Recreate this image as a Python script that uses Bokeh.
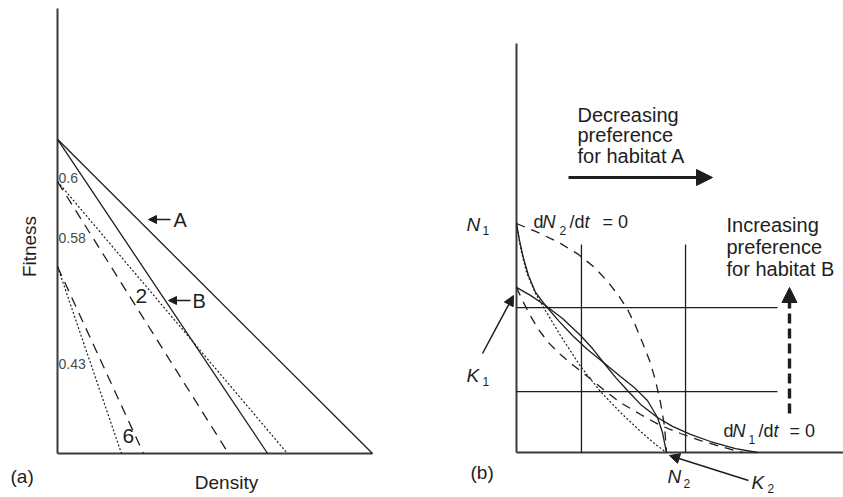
from bokeh.plotting import figure
from bokeh.layouts import row
from bokeh.models import Range1d, Arrow, NormalHead
from bokeh.core.properties import value
from bokeh.embed import file_html
from bokeh.resources import INLINE

FONT = "Liberation Sans"
INK = "#1e1e1e"
AXIS = "#3a3a3a"

# ---------------- Panel (a) data: straight fitness-density lines ----------------
a_line_names = ["A", "B", "pref_0.6_dotted", "pref_2_dashed", "pref_0.43_dotted", "pref_6_dashed"]
a_fitness_at_zero_density = [0.706, 0.706, 0.611, 0.611, 0.420, 0.420]
a_density_at_zero_fitness = [1.000, 0.667, 0.730, 0.543, 0.203, 0.273]
a_value_labels = ["0.6", "0.58", "0.43"]
a_curve_labels = ["2", "6"]
a_arrow_labels = ["A", "B"]

# ---------------- Panel (b) data: isoclines (x = N2, y = N1) ----------------
dn2_solid_x = [0, 0.02, 0.047, 0.08, 0.127, 0.193, 0.28, 0.373, 0.473, 0.58, 0.693, 0.793, 0.873, 0.94, 0.973, 1.0]
dn2_solid_y = [1.0, 0.926, 0.847, 0.773, 0.699, 0.642, 0.576, 0.511, 0.450, 0.393, 0.332, 0.279, 0.227, 0.153, 0.087, 0.0]

dn1_solid_x = [0, 0.093, 0.193, 0.307, 0.427, 0.507, 0.58, 0.66, 0.74, 0.827, 0.94, 1.04, 1.16, 1.293, 1.46, 1.607]
dn1_solid_y = [0.721, 0.686, 0.642, 0.585, 0.511, 0.454, 0.393, 0.328, 0.271, 0.210, 0.153, 0.114, 0.079, 0.048, 0.017, 0.0]

dn2_dashed_x = [0, 0.16, 0.293, 0.413, 0.52, 0.607, 0.68, 0.74, 0.793, 0.84, 0.887, 0.927, 0.96, 0.987, 1.0]
dn2_dashed_y = [1.0, 0.956, 0.913, 0.865, 0.808, 0.747, 0.686, 0.625, 0.555, 0.480, 0.402, 0.314, 0.218, 0.114, 0.0]

dn1_dashed_x = [0, 0.04, 0.087, 0.147, 0.213, 0.293, 0.38, 0.473, 0.58, 0.693, 0.827, 0.96, 1.093, 1.227, 1.36, 1.507]
dn1_dashed_y = [0.721, 0.664, 0.603, 0.537, 0.480, 0.428, 0.380, 0.332, 0.275, 0.218, 0.166, 0.118, 0.083, 0.052, 0.026, 0.0]

dotted_x = [0, 0.027, 0.067, 0.127, 0.193, 0.293, 0.427, 0.56, 0.693, 0.827, 0.927, 1.0]
dotted_y = [1.0, 0.891, 0.786, 0.694, 0.620, 0.511, 0.376, 0.266, 0.175, 0.092, 0.035, 0.0]

grid_h_levels = [0.633, 0.266]      # N1 levels of horizontal reference lines
grid_h_extent = 1.74
grid_v_levels = [0.433, 1.127]      # N2 levels of vertical reference lines
grid_v_extent = 0.908

text_decreasing = "Decreasing\npreference\nfor habitat A"
text_increasing = "Increasing\npreference\nfor habitat B"

DOT = "2 2"
DASH = "10 7"


def make_fig(w, h, xr, yr):
    p = figure(width=w, height=h, x_range=Range1d(*xr), y_range=Range1d(*yr),
               output_backend="svg", toolbar_location=None,
               x_axis_location=None, y_axis_location=None, title=None,
               min_border=0, min_border_left=0, min_border_right=0,
               min_border_top=0, min_border_bottom=0,
               outline_line_color=None, background_fill_color="white",
               border_fill_color="white")
    p.xgrid.visible = False
    p.ygrid.visible = False
    return p


def txt(p, x, y, s, size, style="normal", align="left", baseline="middle",
        angle=0.0, color=INK, line_height=1.0):
    p.text(x=[x], y=[y], text=[s], text_font=value(FONT), text_font_size=f"{size}px",
           text_font_style=style, text_align=align, text_baseline=baseline,
           angle=angle, text_color=color, text_line_height=line_height)


def arrow(p, x0, y0, x1, y1, width=1.3, head=9, dash="solid"):
    p.add_layout(Arrow(end=NormalHead(size=head, fill_color=INK, line_color=INK, line_width=1),
                       x_start=x0, y_start=y0, x_end=x1, y_end=y1,
                       line_color=INK, line_width=width, line_dash=dash))


H = 497
# ---------------- Panel (a) ----------------
# page-pixel placement: origin at (57, 453); 315 px per density unit, 445 px per fitness unit
WA = 448
ax_x = lambda px: (px - 57) / 315
ax_y = lambda py: (453 - py) / 445
pa = make_fig(WA, H, (ax_x(0), ax_x(WA)), (ax_y(H), ax_y(0)))

# axes
pa.line([0, 0], [0, ax_y(8)], line_color=AXIS, line_width=2)
pa.line([0, 1.0], [0, 0], line_color=AXIS, line_width=2)

a_styles = {
    "A": dict(line_dash="solid", line_width=1.3),
    "B": dict(line_dash="solid", line_width=1.3),
    "pref_0.6_dotted": dict(line_dash=DOT, line_width=1.2),
    "pref_2_dashed": dict(line_dash=DASH, line_width=1.3),
    "pref_0.43_dotted": dict(line_dash=DOT, line_width=1.2),
    "pref_6_dashed": dict(line_dash=DASH, line_width=1.3),
}
for name, f0, d0 in zip(a_line_names, a_fitness_at_zero_density, a_density_at_zero_fitness):
    pa.line([0, d0], [f0, 0], line_color=INK, **a_styles[name])

for s, py in zip(a_value_labels, [177, 237, 363]):
    txt(pa, ax_x(58), ax_y(py), s, 14, color="#4a4a4a")
for s, (px, py) in zip(a_curve_labels, [(135, 295), (122, 435)]):
    txt(pa, ax_x(px), ax_y(py), s, 21)
for s, (tail, tip, lx, py) in zip(a_arrow_labels, [(170, 148, 173, 219), (190, 168, 192, 300)]):
    arrow(pa, ax_x(tail), ax_y(py), ax_x(tip), ax_y(py), width=1.3, head=8)
    txt(pa, ax_x(lx), ax_y(py), s, 20)

txt(pa, ax_x(29), ax_y(246), "Fitness", 19, align="center", angle=1.5707963)
txt(pa, ax_x(226), ax_y(482), "Density", 19, align="center")
txt(pa, ax_x(10), ax_y(476), "(a)", 19)

# ---------------- Panel (b) ----------------
# page-pixel placement: origin at (516, 452); 150 px per N2 unit, 229 px per N1 unit
WB = 843 - WA
bx = lambda px: (px - 516) / 150
by = lambda py: (452 - py) / 229
pb = make_fig(WB, H, (bx(WA), bx(WA + WB)), (by(H), by(0)))

pb.line([0, 0], [0, by(43)], line_color=AXIS, line_width=2)
pb.line([0, bx(WA + WB)], [0, 0], line_color=AXIS, line_width=2)

for lv in grid_h_levels:
    pb.line([0, grid_h_extent], [lv, lv], line_color=INK, line_width=1.3)
for lv in grid_v_levels:
    pb.line([lv, lv], [0, grid_v_extent], line_color=INK, line_width=1.3)

pb.line(dn2_solid_x, dn2_solid_y, line_color=INK, line_width=1.3)
pb.line(dn1_solid_x, dn1_solid_y, line_color=INK, line_width=1.3)
pb.line(dn2_dashed_x, dn2_dashed_y, line_color=INK, line_width=1.3, line_dash="9 7")
pb.line(dn1_dashed_x, dn1_dashed_y, line_color=INK, line_width=1.3, line_dash="9 7")
pb.line(dotted_x, dotted_y, line_color=INK, line_width=1.2, line_dash=DOT)

# preference arrows
txt(pb, bx(577), by(103), text_decreasing, 20, baseline="top", line_height=0.95)
arrow(pb, bx(568), by(177), bx(712), by(177), width=3, head=16)
txt(pb, bx(726), by(213), text_increasing, 20, baseline="top", line_height=1.0)
arrow(pb, bx(789), by(413), bx(789), by(287), width=3.4, head=15, dash="10 5")

# axis point labels (italic letter + subscript)
def sub_label(p, lx, ly, main, sub, sx, sy, size=19, subsize=12):
    txt(p, lx, ly, main, size, style="italic")
    txt(p, sx, sy, sub, subsize)

sub_label(pb, bx(466), by(224), "N", "1", bx(482), by(230))
sub_label(pb, bx(466), by(375), "K", "1", bx(482), by(381))
sub_label(pb, bx(667), by(476), "N", "2", bx(683), by(483))
sub_label(pb, bx(751), by(482), "K", "2", bx(767), by(488))
arrow(pb, bx(482), by(353), bx(513), by(295), width=1.5, head=10)
arrow(pb, bx(748), by(480), bx(669), by(455), width=1.5, head=10)

# isocline labels: d N_i / d t = 0
def iso_label(p, x_d, x_N, x_sub, x_slash, x_t, x_eq, py, sub):
    txt(p, bx(x_d), by(py), "d", 18)
    txt(p, bx(x_N), by(py), "N", 18, style="italic")
    txt(p, bx(x_sub), by(py + 9), sub, 12)
    txt(p, bx(x_slash), by(py), "/d", 18)
    txt(p, bx(x_t), by(py), "t", 18, style="italic")
    txt(p, bx(x_eq), by(py), "= 0", 18)

iso_label(pb, 533, 542, 559, 569, 584, 602, 221, "2")
iso_label(pb, 723, 732, 748, 758, 773, 789, 430, "1")

txt(pb, bx(470), by(472), "(b)", 19)

layout = row(pa, pb)
open("out.html", "w").write(file_html(layout, INLINE))
